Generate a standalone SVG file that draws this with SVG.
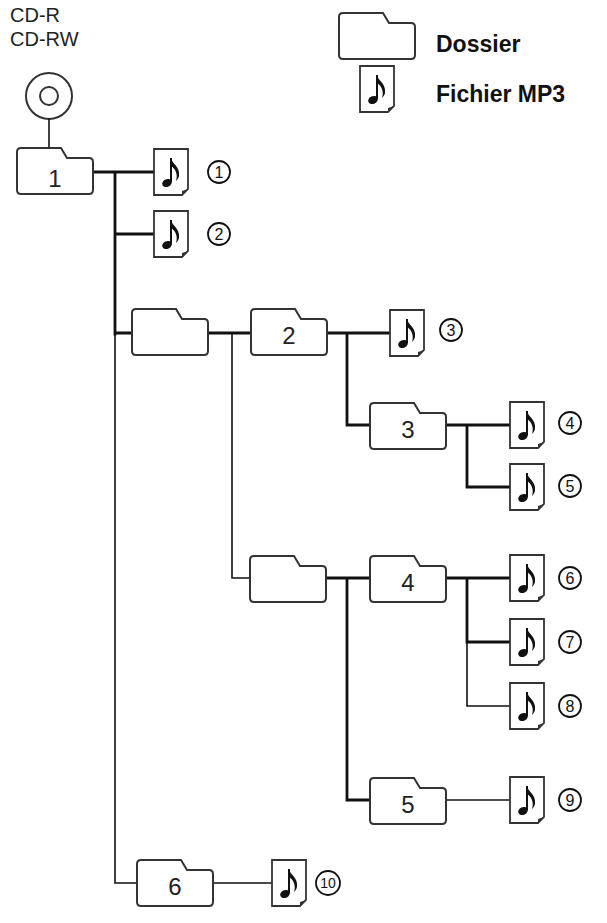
<svg xmlns="http://www.w3.org/2000/svg" xmlns:xlink="http://www.w3.org/1999/xlink" width="607" height="923" viewBox="0 0 607 923">
<style>
.fo{fill:#fff;stroke:#333;stroke-width:2}
.fi{fill:#fff;stroke:#333;stroke-width:1.8}
.c{fill:none;stroke:#111;stroke-linecap:square}
.t{stroke-width:2.8}
.n{stroke-width:1.6}
.lbl{font-family:"Liberation Sans",Arial,sans-serif;font-size:24px;fill:#222;text-anchor:middle}
.num{font-family:"Liberation Sans",Arial,sans-serif;font-size:16px;fill:#111;text-anchor:middle}
.cc{fill:#fff;stroke:#111;stroke-width:1.8}
.leg{font-family:"Liberation Sans",Arial,sans-serif;font-size:23px;font-weight:bold;fill:#111}
.cd{font-family:"Liberation Sans",Arial,sans-serif;font-size:20px;fill:#222}
</style>
<defs>
<g id="folder"><path class="fo" d="M4,0 H44 L50,10 H72 Q76,10 76,14 V42 Q76,46 72,46 H4 Q0,46 0,42 V4 Q0,0 4,0 Z"/></g>
<g id="file"><path class="fi" d="M0,0 H34 V40 L28,46 H0 Z"/><path d="M34,40 L28,46 L28,42 Z" fill="#333"/>
<ellipse cx="13" cy="34" rx="5" ry="3.8" transform="rotate(-25 13 34)" fill="#111"/>
<path d="M17,33 V9" stroke="#111" stroke-width="2" fill="none"/>
<path d="M17,9 C18,15 26,17 25,27 C24,30 23,31 22,32 C24,26 22,20 17,17" fill="#111"/></g>
</defs>
<g id="legend">
<use href="#folder" x="339" y="13"/>
<use href="#file" x="360" y="66"/>
<text class="leg" x="436" y="52">Dossier</text>
<text class="leg" x="436" y="102">Fichier MP3</text>
</g>
<g id="cd">
<text class="cd" x="10" y="22">CD-R</text>
<text class="cd" x="10" y="46">CD-RW</text>
<circle cx="49" cy="96" r="23" fill="#fff" stroke="#333" stroke-width="2"/>
<circle cx="49" cy="96" r="9" fill="#fff" stroke="#333" stroke-width="2"/>
</g>
<g id="connectors">
<path class="c n" d="M49,119 V148"/>
<path class="c t" d="M93,172 H154 M115,172 V334 M115,234 H154 M115,333 H132"/>
<path class="c n" d="M115,333 V883 H137 M213,883 H272"/>
<path class="c t" d="M209,333 H251"/>
<path class="c n" d="M232,333 V578 H250"/>
<path class="c t" d="M328,333 H390 M347,333 V425 H370 M446,425 H510 M467,425 V487 H510"/>
<path class="c t" d="M326,578 H370 M347,578 V800 H370"/>
<path class="c n" d="M446,800 H510"/>
<path class="c t" d="M446,578 H510 M467,578 V642 H510"/>
<path class="c n" d="M467,642 V706 H510"/>
</g>
<g id="f1"><use href="#folder" x="17" y="148"/><text class="lbl" x="55" y="187">1</text></g>
<g id="fa"><use href="#folder" x="132" y="309"/></g>
<g id="f2"><use href="#folder" x="251" y="309"/><text class="lbl" x="289" y="344">2</text></g>
<g id="f3"><use href="#folder" x="370" y="403"/><text class="lbl" x="408" y="438">3</text></g>
<g id="fb"><use href="#folder" x="250" y="556"/></g>
<g id="f4"><use href="#folder" x="370" y="556"/><text class="lbl" x="408" y="591">4</text></g>
<g id="f5"><use href="#folder" x="370" y="778"/><text class="lbl" x="408" y="813">5</text></g>
<g id="f6"><use href="#folder" x="137" y="860"/><text class="lbl" x="175" y="895">6</text></g>
<g id="m1"><use href="#file" x="154" y="149"/><circle class="cc" cx="219" cy="172" r="11"/><text class="num" x="219" y="178">1</text></g>
<g id="m2"><use href="#file" x="154" y="211"/><circle class="cc" cx="219" cy="234" r="11"/><text class="num" x="219" y="240">2</text></g>
<g id="m3"><use href="#file" x="390" y="310"/><circle class="cc" cx="451" cy="330" r="11"/><text class="num" x="451" y="336">3</text></g>
<g id="m4"><use href="#file" x="510" y="402"/><circle class="cc" cx="570" cy="423" r="11"/><text class="num" x="570" y="429">4</text></g>
<g id="m5"><use href="#file" x="510" y="464"/><circle class="cc" cx="570" cy="486" r="11"/><text class="num" x="570" y="492">5</text></g>
<g id="m6"><use href="#file" x="510" y="555"/><circle class="cc" cx="570" cy="578" r="11"/><text class="num" x="570" y="584">6</text></g>
<g id="m7"><use href="#file" x="510" y="619"/><circle class="cc" cx="570" cy="642" r="11"/><text class="num" x="570" y="648">7</text></g>
<g id="m8"><use href="#file" x="510" y="683"/><circle class="cc" cx="570" cy="706" r="11"/><text class="num" x="570" y="712">8</text></g>
<g id="m9"><use href="#file" x="510" y="777"/><circle class="cc" cx="570" cy="800" r="11"/><text class="num" x="570" y="806">9</text></g>
<g id="m10"><use href="#file" x="272" y="860"/><circle class="cc" cx="328" cy="883" r="12"/><text class="num" x="328" y="888" style="font-size:14px">10</text></g>
</svg>
